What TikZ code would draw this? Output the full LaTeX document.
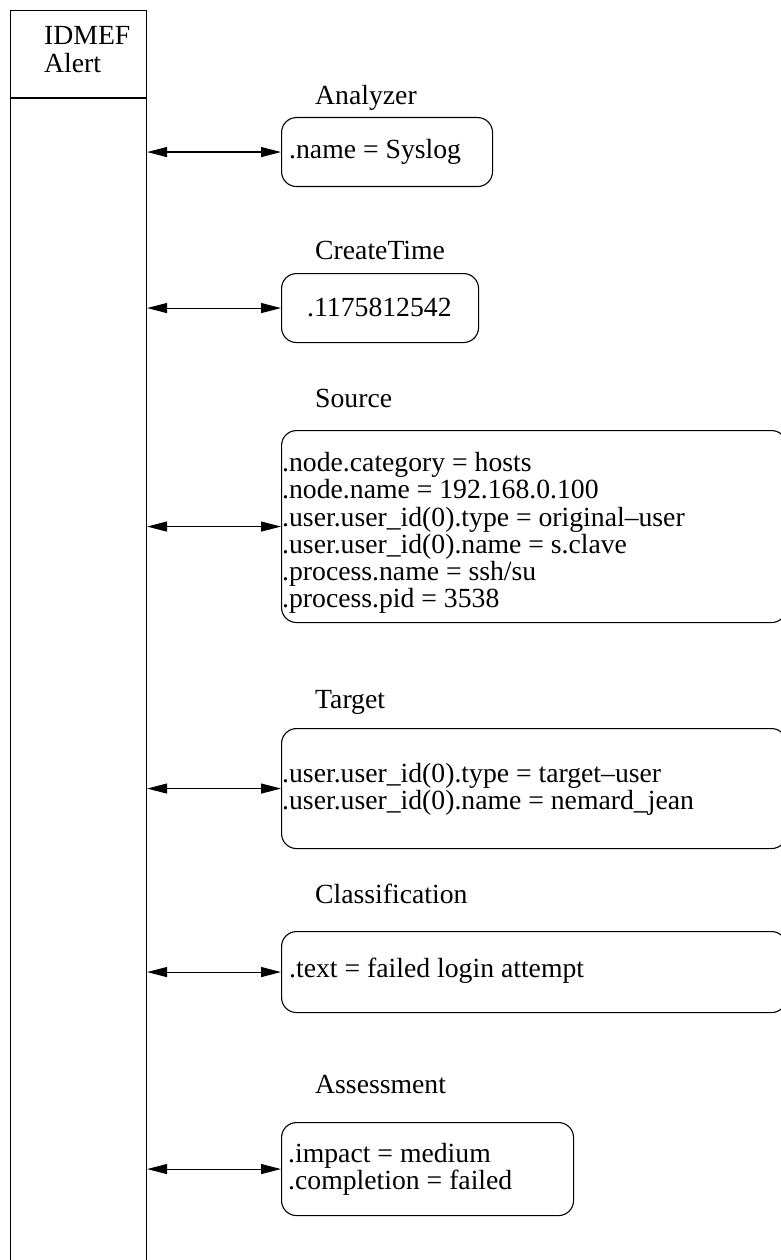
\documentclass[tikz,border=0pt]{standalone}
\usepackage{fontspec}
\setmainfont{Liberation Serif}
\usetikzlibrary{arrows.meta}
\begin{document}
\begin{tikzpicture}[x=1pt,y=-1pt,
  every node/.style={font=\fontsize{27.7}{27.2}\selectfont},
  field/.style={draw, rounded corners=15pt, line width=1.1pt, anchor=north west, inner sep=0pt},
  txt/.style={anchor=west, inner sep=0pt, align=left},
  head/.style={anchor=base west, inner sep=0pt},
  link/.style={{Triangle[length=20pt,width=10pt]}-{Triangle[length=20pt,width=10pt]}, line width=1.1pt}]
\useasboundingbox (0,0) rectangle (781,1260);

% the alert column on the left
\node[draw, line width=1.1pt, anchor=north west, minimum width=136pt,
      minimum height=1290pt, inner sep=0pt] (alert) at (10,10) {};
\coordinate (div) at (0,98);
\draw[line width=1.1pt] (alert.west |- div) -- (alert.east |- div);
\node[head] (t1) at (44,45) {IDMEF};
\node[head] (t2) at (44,73) {Alert};

% Analyzer
\node[head] (lan) at (315,105) {Analyzer};
\node[field, minimum width=211pt, minimum height=69pt] (ban) at (281,117) {};
\node[txt] (xan) at (289,152) {.name = Syslog};
\draw[link] (ban.west -| alert.east) -- (ban.west);

% CreateTime
\node[head] (lct) at (315,259) {CreateTime};
\node[field, minimum width=197pt, minimum height=69pt] (bct) at (281,273) {};
\node[txt] (xct) at (307,307.5) {.1175812542};
\draw[link] (bct.west -| alert.east) -- (bct.west);

% Source
\node[head] (lsr) at (315,407) {Source};
\node[field, minimum width=505pt, minimum height=192pt] (bsr) at (281,430) {};
\node[txt] (xsr) at (282,533) {.node.category = hosts\\
  .node.name = 192.168.0.100\\
  .user.user\_id(0).type = original--user\\
  .user.user\_id(0).name = s.clave\\
  .process.name = ssh/su\\
  .process.pid = 3538};
\draw[link] (bsr.west -| alert.east) -- (bsr.west);

% Target
\node[head] (ltg) at (315,708) {Target};
\node[field, minimum width=505pt, minimum height=120pt] (btg) at (281,728) {};
\node[txt] (xtg) at (282,789) {.user.user\_id(0).type = target--user\\
  .user.user\_id(0).name = nemard\_jean};
\draw[link] (btg.west -| alert.east) -- (btg.west);

% Classification
\node[head] (lcl) at (315,903) {Classification};
\node[field, minimum width=505pt, minimum height=81pt] (bcl) at (281,931) {};
\node[txt] (xcl) at (289,971) {.text = failed login attempt};
\draw[link] (bcl.west -| alert.east) -- (bcl.west);

% Assessment
\node[head] (las) at (315,1093) {Assessment};
\node[field, minimum width=292pt, minimum height=93pt] (bas) at (281,1122) {};
\node[txt] (xas) at (288,1169) {.impact = medium\\
  .completion = failed};
\draw[link] (bas.west -| alert.east) -- (bas.west);
\end{tikzpicture}
\end{document}
